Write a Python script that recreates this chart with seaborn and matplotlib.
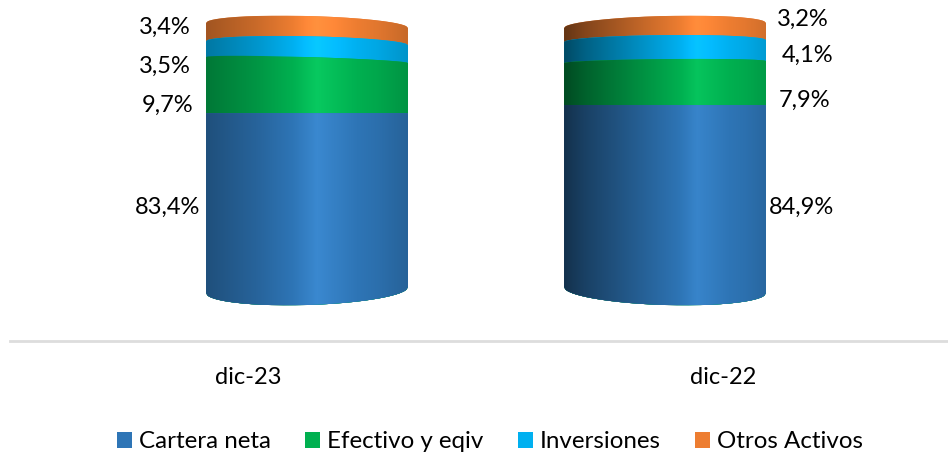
from __future__ import annotations

import matplotlib

matplotlib.use("Agg")
import matplotlib.pyplot as plt
import numpy as np
import pandas as pd
import seaborn as sns
from matplotlib.colors import to_rgb
from matplotlib.patches import Patch, PathPatch
from matplotlib.path import Path as MplPath

# Printed labels. The source chart does not draw its bands in proportion to them.
periods = ["dic-23", "dic-22"]
label_cartera = ["83,4%", "84,9%"]
label_efectivo = ["9,7%", "7,9%"]
label_inversiones = ["3,5%", "4,1%"]
label_otros = ["3,4%", "3,2%"]

# Drawn band heights (share of the cylinder height)
height_cartera = [66.4, 69.2]
height_efectivo = [19.4, 15.9]
height_inversiones = [7.2, 8.3]
height_otros = [7.0, 6.6]

series_names = ["Cartera neta", "Efectivo y eqiv", "Inversiones", "Otros Activos"]
series_colors = ["#2E75B6", "#00B050", "#00B0F0", "#ED7D31"]

PX = 100 / 289  # data units per pixel
BAR_WIDTH = 0.564
# curve and tilt of each band's upper edge, in pixels, per period
TOP_ARC = [0, 3, 7, 9.5], [0, 3, 6, 9.5]
TOP_TILT = [0, 3, 2, 2.5], [0, -1, -1, -2.5]
BOTTOM_ARC = 15
BOTTOM_TILT = 3, -3
# horizontal light falloff across each cylinder: position, brightness
SHADE = (
    ([0, 0.25, 0.55, 0.85, 1], [0.68, 0.85, 1.1, 0.95, 0.84]),
    ([0, 0.1, 0.66, 0.9, 1], [0.42, 0.55, 1.08, 0.96, 0.88]),
)
# label offsets from the bar edge and band middle, in pixels
LABEL_DX = [-6, -13, -15, -15], [3, 13, 16, 11]
LABEL_DY = [2, -20, -20, -1], [-2, -18, -8, 6]


def _cylinder_clip(ax, left, right, top, top_arc, top_tilt, bottom_arc, bottom_tilt):
    u = np.linspace(-1, 1, 121)
    x = left + (u + 1) / 2 * (right - left)
    bulge = 1 - np.sqrt(1 - u**2)
    upper = top - (top_arc * bulge + top_tilt * u) * PX
    lower = (bottom_arc * bulge + bottom_tilt * u) * PX
    verts = np.column_stack([np.r_[x, x[::-1]], np.r_[upper, lower[::-1]]])
    return PathPatch(MplPath(verts, closed=False), transform=ax.transData, fc="none", ec="none")


def _shade_strip(color, stops):
    pos = np.linspace(0, 1, 256)
    gain = np.interp(pos, stops[0], stops[1])
    rgb = np.array(to_rgb(color))
    strip = np.clip(rgb[None, :] * gain[:, None] + np.clip(gain - 1, 0, None)[:, None] * 0.3, 0, 1)
    return strip[None, :, :]


sns.set_theme(style="white")
plt.rcParams["font.family"] = ["Lato", "DejaVu Sans"]

heights = [height_cartera, height_efectivo, height_inversiones, height_otros]
labels = [label_cartera, label_efectivo, label_inversiones, label_otros]
tops = np.cumsum(np.array(heights), axis=0)

fig = plt.figure(figsize=(9.48, 4.53), dpi=100)
ax = fig.add_axes([10 / 948, (453 - 341) / 453, 938 / 948, 341 / 453])

# tallest stack first, shorter ones painted over it
for s in range(len(series_names) - 1, -1, -1):
    frame = pd.DataFrame({"period": periods, "top": tops[s]})
    before = len(ax.patches)
    sns.barplot(
        data=frame,
        x="period",
        y="top",
        order=periods,
        color=series_colors[s],
        saturation=1,
        width=BAR_WIDTH,
        errorbar=None,
        zorder=2 + (3 - s) * 2,
        ax=ax,
    )
    for p, bar in enumerate(ax.patches[before:]):
        bar.set_linewidth(0)
        left, right = bar.get_x(), bar.get_x() + bar.get_width()
        clip = _cylinder_clip(
            ax, left, right, bar.get_height(),
            TOP_ARC[p][s], TOP_TILT[p][s], BOTTOM_ARC, BOTTOM_TILT[p],
        )
        ax.add_patch(clip)
        bar.set_clip_path(clip)
        image = ax.imshow(
            _shade_strip(series_colors[s], SHADE[p]),
            extent=(left, right, 0 - 16 * PX, bar.get_height() + 2),
            aspect="auto",
            interpolation="bilinear",
            zorder=3 + (3 - s) * 2,
        )
        image.set_clip_path(clip)
        mid = tops[s][p] - heights[s][p] / 2
        edge = left if p == 0 else right
        ax.annotate(
            labels[s][p],
            xy=(edge, mid),
            xytext=(LABEL_DX[p][s], LABEL_DY[p][s]),
            textcoords="offset pixels",
            ha="right" if p == 0 else "left",
            va="center",
            fontsize=17,
            color="black",
            zorder=20,
        )

ax.set_xlim(-297 / 358, 641 / 358)
ax.set_ylim(-36 * PX, 100 + 16 * PX)
ax.set_xlabel("")
ax.set_ylabel("")
ax.set_yticks([])
# the source centres its category labels away from the bars
ax.set_xticks([-59 / 358, 416 / 358], periods)
ax.tick_params(axis="x", length=0, pad=18.5, labelsize=17, labelcolor="black")
for name in ["top", "left", "right"]:
    ax.spines[name].set_visible(False)
ax.spines["bottom"].set_color("#DDDDDD")
ax.spines["bottom"].set_linewidth(2)
ax.patch.set_alpha(0)

handles = [Patch(facecolor=c, edgecolor="none", label=n) for c, n in zip(series_colors, series_names)]
fig.legend(
    handles=handles,
    loc="center",
    bbox_to_anchor=(490 / 948, 1 - 442 / 453),
    ncol=4,
    frameon=False,
    fontsize=17.4,
    labelcolor="black",
    handlelength=0.61,
    handleheight=0.61,
    handletextpad=0.3,
    columnspacing=1.42,
    borderpad=0,
)

fig.savefig("out.png", dpi=100)
plt.close(fig)
